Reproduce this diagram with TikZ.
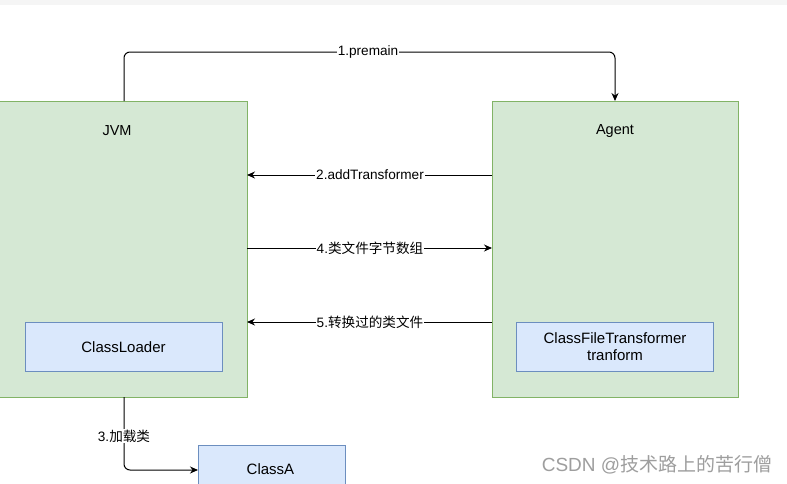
\documentclass[tikz,border=0pt]{standalone}
\usepackage{fontspec}
\setmainfont{Liberation Sans}
\newfontfamily\cjk{Noto Sans CJK SC}
\usetikzlibrary{arrows.meta}
\definecolor{gfill}{HTML}{D5E8D4}
\definecolor{gdraw}{HTML}{82B366}
\definecolor{bfill}{HTML}{DAE8FC}
\definecolor{bdraw}{HTML}{6C8EBF}
\begin{document}
\begin{tikzpicture}[x=1pt,y=-1pt,
  inner/.style={draw=bdraw,fill=bfill,line width=0.8pt,inner sep=0pt,align=center,font=\fontsize{15}{17}\selectfont},
  title/.style={font=\fontsize{14.5}{16}\selectfont},
  conn/.style={line width=1pt,-{Stealth[length=8pt,width=7pt]},rounded corners=6pt},
  lbl/.style={fill=white,inner sep=1pt,font=\fontsize{13.6}{15}\selectfont}]
\useasboundingbox (0,0) rectangle (787,483);
\fill[white] (0,0) rectangle (787,483);
\fill[black!4] (0,0) rectangle (787,5);
% boxes
\path[draw=gdraw,fill=gfill,line width=0.8pt] (-1,101) rectangle (247,397);
\node[title] (jvm) at (117,131) {JVM};
\path[draw=gdraw,fill=gfill,line width=0.8pt] (492,101) rectangle (738,397);
\node[title] (agent) at (615,131) {Agent};
\node[inner,minimum width=197pt,minimum height=49pt] (cl) at (123.5,347) {ClassLoader};
\node[inner,minimum width=197pt,minimum height=49pt] (cft) at (615,347) {ClassFileTransformer\\tranform};
\node[inner,minimum width=147pt,minimum height=50pt,anchor=north west] (ca) at (198,445) {};
\node[font=\fontsize{15}{17}\selectfont] (catext) at (270.5,469) {ClassA};
% coordinates on box edges
\coordinate (jvmTop) at (124,101);
\coordinate (agentTop) at (615,101);
\coordinate (jvmBot) at (124,397);
\coordinate (caW) at (198,470);
\coordinate (jR2) at (247,175);
\coordinate (aL2) at (492,175);
\coordinate (jR4) at (247,248);
\coordinate (aL4) at (492,248);
\coordinate (jR5) at (247,322);
\coordinate (aL5) at (492,322);
% connectors
\draw[conn] (jvmTop) -- (124,52) -- (615,52) -- (agentTop);
\node[lbl] (l1) at (368,52) {1.premain};
\draw[conn] (aL2) -- (jR2);
\node[lbl] (l2) at (370,175) {2.addTransformer};
\draw[conn] (jR4) -- (aL4);
\node[lbl] (l4) at (370,248) {4.{\cjk 类文件字节数组}};
\draw[conn] (aL5) -- (jR5);
\node[lbl] (l5) at (370,322) {5.{\cjk 转换过的类文件}};
\draw[conn] (jvmBot) -- (124,470) -- (caW);
\node[lbl] (l3) at (124,436) {3.{\cjk 加载类}};
% watermark
\node[text=black!38,font=\fontsize{19}{21}\selectfont] (wm) at (657,465) {CSDN @{\cjk 技术路上的苦行僧}};
\end{tikzpicture}
\end{document}
